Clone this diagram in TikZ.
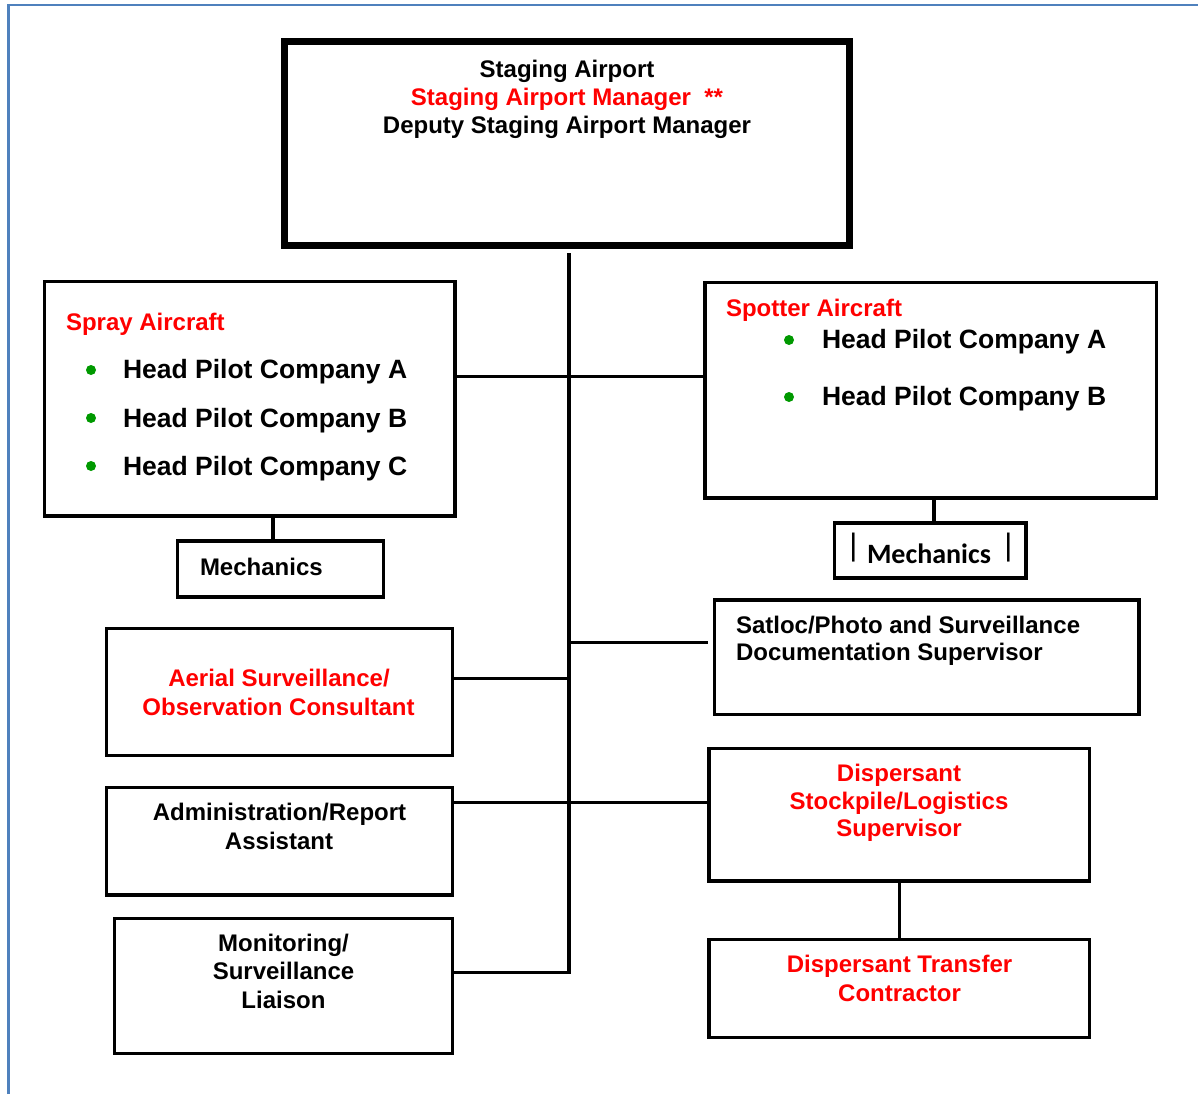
\documentclass[tikz,border=0pt]{standalone}
\usepackage{fontspec}
\setmainfont{Liberation Sans}
\newfontfamily\calib{Carlito}
\begin{document}
\definecolor{frameblue}{RGB}{79,129,189}
\definecolor{bulletgreen}{RGB}{0,153,0}
\definecolor{rolered}{RGB}{255,0,0}
\begin{tikzpicture}[x=1pt,y=-1pt,
  box/.style={draw, rectangle, line width=3.5pt, inner sep=0pt, outer sep=0pt},
  link/.style={draw, line width=3.5pt},
  txt/.style={inner sep=0pt, outer sep=0pt, font=\fontsize{24}{28}\selectfont\bfseries},
  lbl/.style={txt, anchor=base},
  lblw/.style={txt, anchor=base west},
  red/.style={text=rolered},
  pilot/.style={lblw, font=\fontsize{26.5}{30}\selectfont\bfseries},
  dot/.style={circle, fill=bulletgreen, inner sep=0pt, minimum size=10pt},
  bar/.style={inner sep=0pt, outer sep=0pt, font=\fontsize{31}{34}\selectfont}
]
\useasboundingbox (0,0) rectangle (1198,1094);

% outer page frame
\draw[frameblue, line width=2.5pt] (8.7,1094) -- (8.7,5) -- (1198,5);

% boxes
\node[box, line width=7pt, minimum width=565pt, minimum height=204pt] (top) at (567,143.5) {};
\node[box, minimum width=410.5pt, minimum height=234.5pt] (spray) at (249.75,398.75) {};
\node[box, minimum width=205.8pt, minimum height=56pt] (lmech) at (280.6,569) {};
\node[box, minimum width=451.5pt, minimum height=215.5pt] (spotter) at (930.75,390.25) {};
\node[box, minimum width=191.3pt, minimum height=55pt] (rmech) at (930.35,550.5) {};
\node[box, minimum width=424.7pt, minimum height=114.5pt] (satloc) at (926.65,657.25) {};
\node[box, minimum width=346pt, minimum height=127pt] (aerial) at (279.5,692) {};
\node[box, minimum width=346pt, minimum height=107.5pt] (admin) at (279.5,841.25) {};
\node[box, minimum width=338pt, minimum height=135pt] (monit) at (283.5,986) {};
\node[box, minimum width=380.5pt, minimum height=132.7pt] (disp) at (899.25,814.65) {};
\node[box, minimum width=380.5pt, minimum height=98.2pt] (trans) at (899.25,988.4) {};

% junction points on the trunk
\coordinate (trunktop) at (569,253);
\coordinate (trunkbot) at (569,972.7);
\coordinate (jair) at (569,376.5);
\coordinate (jsat) at (569,642.7);
\coordinate (jaer) at (569,678.3);
\coordinate (jadm) at (569,802.3);
\coordinate (jlm) at (273,541);
\coordinate (jrm) at (934.3,523);

% connectors
\draw[link] (trunktop) -- (trunkbot) -- (trunkbot -| monit.east);
\draw[link] (spray.east |- jair) -- (spotter.west |- jair);
\draw[link, shorten >=6pt] (jsat) -- (satloc.west |- jsat);
\draw[link] (aerial.east |- jaer) -- (jaer);
\draw[link] (admin.east |- jadm) -- (disp.west |- jadm);
\draw[link] (spray.south -| jlm) -- (jlm);
\draw[link, line width=4pt] (spotter.south -| jrm) -- (jrm);
\draw[link] (disp.south) -- (trans.north);

% staging airport
\node[lbl] (t1) at (567,78) {Staging Airport};
\node[lbl, red] (t2) at (567,106) {Staging Airport Manager\ \ **};
\node[lbl] (t3) at (567,134) {Deputy Staging Airport Manager};

% spray aircraft
\node[lblw, red] (s0) at (66,330) {Spray Aircraft};
\node[dot] (sb1) at (91,370) {};
\node[dot] (sb2) at (91,418) {};
\node[dot] (sb3) at (91,466) {};
\node[pilot] (s1) at (123,378) {Head Pilot Company A};
\node[pilot] (s2) at (123,427) {Head Pilot Company B};
\node[pilot] (s3) at (123,475) {Head Pilot Company C};
\node[lblw] (lm) at (200,575) {Mechanics};

% spotter aircraft
\node[lblw, red] (p0) at (726,316) {Spotter Aircraft};
\node[dot] (pb1) at (789,340) {};
\node[dot] (pb2) at (789,397) {};
\node[pilot] (p1) at (822,348) {Head Pilot Company A};
\node[pilot] (p2) at (822,405) {Head Pilot Company B};
\node[txt, anchor=base west, font=\calib\fontsize{28}{32}\selectfont\bfseries] (rm) at (867,563) {Mechanics};
\node[bar] (rmb1) at (853.3,547.5) {|};
\node[bar] (rmb2) at (1008.3,547.5) {|};

% satloc
\node[lblw] (sa1) at (736,633) {Satloc/Photo and Surveillance};
\node[lblw] (sa2) at (736,660) {Documentation Supervisor};

% aerial surveillance
\node[lbl, red] (a1) at (279,686) {Aerial Surveillance/};
\node[lbl, red] (a2) at (278.5,715) {Observation Consultant};

% administration
\node[lbl] (ad1) at (279.5,820) {Administration/Report};
\node[lbl] (ad2) at (279,849) {Assistant};

% dispersant stockpile
\node[lbl, red] (d1) at (899,781) {Dispersant};
\node[lbl, red] (d2) at (899,809) {Stockpile/Logistics};
\node[lbl, red] (d3) at (899,836) {Supervisor};

% monitoring
\node[lbl] (m1) at (283.5,951) {Monitoring/};
\node[lbl] (m2) at (283.5,979) {Surveillance};
\node[lbl] (m3) at (283.5,1008) {Liaison};

% dispersant transfer
\node[lbl, red] (tr1) at (899.5,972) {Dispersant Transfer};
\node[lbl, red] (tr2) at (899.5,1001) {Contractor};
\end{tikzpicture}
\end{document}
